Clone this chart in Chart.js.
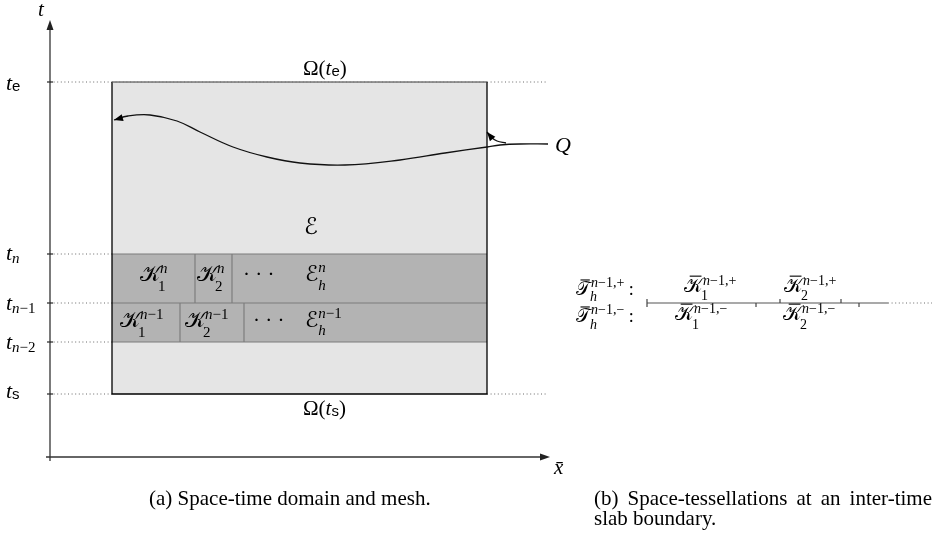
<!DOCTYPE html>
<html>
<head>
<meta charset="utf-8">
<script src="https://cdn.jsdelivr.net/npm/chart.js@4.4.0/dist/chart.umd.min.js"></script>
<style>
  html, body { margin: 0; padding: 0; background: #fff; }
  #wrap { width: 936px; height: 537px; }
</style>
</head>
<body>
<div id="wrap"><canvas id="c" width="936" height="537"></canvas></div>
<script>
// ---- diagram data (plane units: x to the right, y downward) ----
const timeNames   = ['e', 'n', 'n−1', 'n−2', 's'];
const timeLevels  = [82, 254, 303, 342, 394];        // t_e, t_n, t_{n-1}, t_{n-2}, t_s
const domainEdges = [112, 487];                      // left / right side of Ω
const slabNFaces  = [112, 195, 232, 487];            // element faces in slab n
const slabN1Faces = [112, 180, 244, 487];            // element faces in slab n−1
const axisOrigin  = [50, 457];
const tAxisTop    = 20;
const xAxisRight  = 550;
const guideRight  = 547;
const curveX = [548, 520, 500, 487, 445, 400, 345, 300, 267, 233, 200, 177, 150, 128, 114];
const curveY = [144, 144, 145, 147, 153, 160, 165, 163, 157, 147, 132, 121, 115, 116, 120];
const qBranchX = [506, 497, 491, 487];
const qBranchY = [143, 141, 137, 132];
const interfaceX = [647, 888, 932];                  // solid start, solid end, dotted end
const interfaceY = 303;
const tessPlus  = [647, 780, 841];                   // faces of T_h^{n-1,+}
const tessMinus = [647, 756, 859];                   // faces of T_h^{n-1,-}

// ---- line datasets ----
const datasets = [];
const P = (x, y) => ({ x, y });
function addLine(points, style) {
  datasets.push(Object.assign({
    data: points, showLine: true, pointRadius: 0, fill: false, tension: 0,
    borderWidth: 1.2, borderColor: '#000'
  }, style || {}));
}
const [L, R] = domainEdges;
const [tE, tN, tN1, tN2, tS] = timeLevels;
const dotted = { borderColor: '#6a6a6a', borderWidth: 1, borderDash: [1, 2.6] };

// domain and the two slabs
addLine([P(L, tE), P(R, tE)], { fill: { value: tS }, backgroundColor: '#e5e5e5', borderColor: 'rgba(0,0,0,0)' });
addLine([P(L, tN), P(R, tN)], { fill: { value: tN2 }, backgroundColor: '#b3b3b3', borderColor: 'rgba(0,0,0,0)' });

// slab boundaries and element faces
const grey = { borderColor: '#7d7d7d', borderWidth: 1.2 };
[tN, tN1, tN2].forEach(t => addLine([P(L, t), P(R, t)], grey));
slabNFaces.slice(1, -1).forEach(f => addLine([P(f, tN), P(f, tN1)], grey));
slabN1Faces.slice(1, -1).forEach(f => addLine([P(f, tN1), P(f, tN2)], grey));

// guide lines from the time axis
timeLevels.forEach(t => addLine([P(axisOrigin[0], t), P(L, t)], dotted));
addLine([P(R, tE), P(guideRight, tE)], dotted);
addLine([P(R, tS), P(guideRight, tS)], dotted);

// domain outline
addLine([P(L, tE), P(R, tE)], { borderColor: '#3a3a3a', borderWidth: 1.2 });
addLine([P(L, tE), P(L, tS), P(R, tS), P(R, tE)], { borderColor: '#000', borderWidth: 1.3 });
addLine([P(L, tE), P(R, tE)], { borderColor: '#777', borderWidth: 1, borderDash: [1, 2.6] });

// axes and ticks
const axisStyle = { borderColor: '#333', borderWidth: 1.3 };
addLine([P(axisOrigin[0], axisOrigin[1] + 4), P(axisOrigin[0], tAxisTop + 6)], axisStyle);
addLine([P(axisOrigin[0] - 4, axisOrigin[1]), P(xAxisRight - 6, axisOrigin[1])], axisStyle);
timeLevels.forEach(t => addLine([P(axisOrigin[0] - 3, t), P(axisOrigin[0] + 3, t)], axisStyle));

// boundary curve and its pointer from Q
addLine(curveX.map((x, i) => P(x, curveY[i])), { tension: 0.4, borderWidth: 1.3, borderColor: '#111' });
addLine(qBranchX.map((x, i) => P(x, qBranchY[i])), { tension: 0.4, borderWidth: 1.3, borderColor: '#111' });

// inter-slab interface with both tessellations
addLine([P(interfaceX[0], interfaceY), P(interfaceX[1], interfaceY)], { borderColor: '#555', borderWidth: 1.2 });
addLine([P(interfaceX[1], interfaceY), P(interfaceX[2], interfaceY)], dotted);
tessPlus.forEach(f => addLine([P(f, interfaceY), P(f, interfaceY - 4)], { borderColor: '#444', borderWidth: 1.2 }));
tessMinus.forEach(f => addLine([P(f, interfaceY), P(f, interfaceY + 4)], { borderColor: '#444', borderWidth: 1.2 }));

// later datasets go on top
datasets.forEach((d, i) => { d.order = datasets.length - i; });

// ---- text runs ----
const SERIF = '"Liberation Serif", "Times New Roman", serif';
const SANS  = '"Liberation Sans", Arial, sans-serif';
const CAL   = '"DejaVu Sans", "DejaVu Serif", serif';
const CK = '\u{1D4A6}', CE = '\u2130', CT = '\u{1D4AF}';
const Rr = (s, z, dy) => ({ s, f: `${z}px ${SERIF}`, dy: dy || 0 });
const Ii = (s, z, dy) => ({ s, f: `italic ${z}px ${SERIF}`, dy: dy || 0 });
const Sf = (s, z, dy) => ({ s, f: `${z}px ${SANS}`, dy: dy || 0 });
const Cc = (s, z, dy, bar) => ({ s, f: `${z}px ${CAL}`, dy: dy || 0, bar: bar ? z : 0 });
const stack = (sup, sub) => ({ stack: [sup, sub] });

function drawRuns(ctx, x, y, runs) {
  let cx = x;
  for (const r of runs) {
    if (r.stack) {
      let w = 0;
      for (const part of r.stack) {
        if (!part) continue;
        const pw = drawRuns(ctx, cx + (part.dx || 0), y + part.dy, part.runs) + (part.dx || 0);
        w = Math.max(w, pw);
      }
      cx += w;
      continue;
    }
    ctx.font = r.f;
    ctx.fillText(r.s, cx, y + r.dy);
    const w = ctx.measureText(r.s).width;
    if (r.bar) ctx.fillRect(cx + w * 0.3, y + r.dy - r.bar * 0.82, w * 0.62, 1.1);
    cx += w;
  }
  return cx - x;
}

function timeLabelRuns(name) {
  if (name === 'e' || name === 's') return [Ii('t', 22), Sf(name, 15, 1)];
  return [Ii('t', 22), Ii(name[0], 15, 3), Rr(name.slice(1), 15, 3)];
}
const timeLabelDy = [8, 6, 7, 7, 4];
const nm1 = z => [Ii('n', z), Rr('−1', z)];

const labels = [
  { x: 38, y: 16, runs: [Ii('t', 21)] },
  { x: xAxisRight + 4, y: 474, runs: [Ii('x̄', 21)] },
  ...timeNames.map((n, i) => ({ x: 6, y: timeLevels[i] + timeLabelDy[i], runs: timeLabelRuns(n) })),
  { x: 303, y: tE - 7, runs: [Rr('Ω(', 21), Ii('t', 21), Sf('e', 15, 1), Rr(')', 21)] },
  { x: 303, y: tS + 21, runs: [Rr('Ω(', 21), Ii('t', 21), Sf('s', 15, 1), Rr(')', 21)] },
  { x: 304, y: 234, runs: [Cc(CE, 23)] },
  { x: 555, y: 152, runs: [Ii('Q', 22)] },
  // slab n
  { x: 140, y: 281, runs: [Cc(CK, 22), stack({ dy: -8, runs: [Ii('n', 15)] }, { dy: 10, dx: -2, runs: [Rr('1', 15)] })] },
  { x: 197, y: 281, runs: [Cc(CK, 22), stack({ dy: -8, runs: [Ii('n', 15)] }, { dy: 10, dx: -2, runs: [Rr('2', 15)] })] },
  { x: 243, y: 281, runs: [Rr('· · ·', 21)] },
  { x: 305, y: 281, runs: [Cc(CE, 22), stack({ dy: -9, runs: [Ii('n', 15)] }, { dy: 9, runs: [Ii('h', 15)] })] },
  // slab n−1
  { x: 120, y: 327, runs: [Cc(CK, 22), stack({ dy: -8, runs: nm1(15) }, { dy: 10, dx: -2, runs: [Rr('1', 15)] })] },
  { x: 185, y: 327, runs: [Cc(CK, 22), stack({ dy: -8, runs: nm1(15) }, { dy: 10, dx: -2, runs: [Rr('2', 15)] })] },
  { x: 253, y: 327, runs: [Rr('· · ·', 21)] },
  { x: 305, y: 327, runs: [Cc(CE, 22), stack({ dy: -9, runs: nm1(15) }, { dy: 8, runs: [Ii('h', 15)] })] },
  // tessellations at the interface
  { x: 576, y: 295, runs: [Cc(CT, 19, 0, true), stack({ dy: -8, runs: [Ii('n', 14), Rr('−1,+', 14)] }, { dy: 6, dx: -1, runs: [Ii('h', 14)] }), Rr(' :', 18)] },
  { x: 576, y: 322, runs: [Cc(CT, 19, 0, true), stack({ dy: -8, runs: [Ii('n', 14), Rr('−1,−', 14)] }, { dy: 7, dx: -1, runs: [Ii('h', 14)] }), Rr(' :', 18)] },
  { x: 684, y: 292, runs: [Cc(CK, 20, 0, true), stack({ dy: -7, runs: [Ii('n', 14), Rr('−1,+', 14)] }, { dy: 8, dx: -2, runs: [Rr('1', 14)] })] },
  { x: 784, y: 292, runs: [Cc(CK, 20, 0, true), stack({ dy: -7, runs: [Ii('n', 14), Rr('−1,+', 14)] }, { dy: 8, dx: -2, runs: [Rr('2', 14)] })] },
  { x: 675, y: 320, runs: [Cc(CK, 20, 0, true), stack({ dy: -7, runs: [Ii('n', 14), Rr('−1,−', 14)] }, { dy: 9, dx: -2, runs: [Rr('1', 14)] })] },
  { x: 783, y: 320, runs: [Cc(CK, 20, 0, true), stack({ dy: -7, runs: [Ii('n', 14), Rr('−1,−', 14)] }, { dy: 9, dx: -2, runs: [Rr('2', 14)] })] },
  // captions
  { x: 149, y: 505, runs: [Rr('(a) Space-time domain and mesh.', 21)] },
  { x: 594, y: 525, runs: [Rr('slab boundary.', 21)] }
];

function drawJustified(ctx, x, y, text, width, font) {
  ctx.font = font;
  const words = text.split(' ');
  const wsum = words.reduce((s, w) => s + ctx.measureText(w).width, 0);
  const gap = (width - wsum) / (words.length - 1);
  let cx = x;
  words.forEach(w => { ctx.fillText(w, cx, y); cx += ctx.measureText(w).width + gap; });
}

function arrowHead(ctx, tip, from, len, half) {
  const a = Math.atan2(tip.y - from.y, tip.x - from.x);
  const c = Math.cos(a), s = Math.sin(a);
  ctx.beginPath();
  ctx.moveTo(tip.x, tip.y);
  ctx.lineTo(tip.x - len * c - half * s, tip.y - len * s + half * c);
  ctx.lineTo(tip.x - len * c + half * s, tip.y - len * s - half * c);
  ctx.closePath();
  ctx.fill();
}

const diagramText = {
  id: 'diagramText',
  afterDatasetsDraw(chart) {
    const { ctx, scales: { x, y } } = chart;
    const px = (a, b) => ({ x: x.getPixelForValue(a), y: y.getPixelForValue(b) });
    ctx.save();
    ctx.fillStyle = '#222';
    arrowHead(ctx, px(axisOrigin[0], tAxisTop), px(axisOrigin[0], axisOrigin[1]), 10, 3.5);
    arrowHead(ctx, px(xAxisRight, axisOrigin[1]), px(axisOrigin[0], axisOrigin[1]), 10, 3.5);
    ctx.fillStyle = '#000';
    const n = curveX.length;
    arrowHead(ctx, px(curveX[n - 1], curveY[n - 1]), px(curveX[n - 2], curveY[n - 2]), 9, 3.5);
    const m = qBranchX.length;
    arrowHead(ctx, px(qBranchX[m - 1], qBranchY[m - 1]), px(qBranchX[m - 2], qBranchY[m - 2]), 9, 3.5);

    ctx.textAlign = 'left';
    ctx.textBaseline = 'alphabetic';
    for (const lb of labels) {
      const p = px(lb.x, lb.y);
      drawRuns(ctx, p.x, p.y, lb.runs);
    }
    const c1 = px(594, 505), c2 = px(932, 505);
    drawJustified(ctx, c1.x, c1.y, '(b) Space-tessellations at an inter-time', c2.x - c1.x, `21px ${SERIF}`);
    ctx.restore();
  }
};

new Chart(document.getElementById('c'), {
  type: 'line',
  data: { datasets },
  options: {
    responsive: false,
    animation: false,
    devicePixelRatio: 1,
    layout: { padding: 0 },
    plugins: { legend: { display: false }, tooltip: { enabled: false } },
    scales: {
      x: { type: 'linear', min: 0, max: 936, display: false },
      y: { type: 'linear', min: 0, max: 537, reverse: true, display: false }
    }
  },
  plugins: [diagramText]
});
</script>
</body>
</html>
